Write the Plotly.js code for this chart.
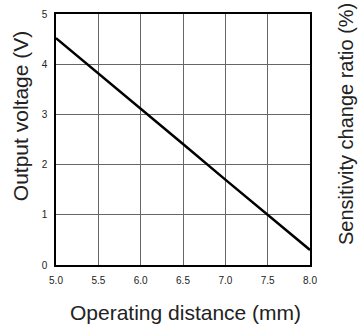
<!DOCTYPE html>
<html><head><meta charset="utf-8">
<script src="https://cdn.plot.ly/plotly-3.0.1.min.js"></script>
<style>html,body{margin:0;padding:0;background:#fff}</style>
</head><body><div id="chart" style="width:360px;height:331px"></div>
<script>
const distance = [5.0, 5.5, 6.0, 6.5, 7.0, 7.5, 8.0];
const voltage = [4.52, 3.82, 3.11, 2.41, 1.70, 1.00, 0.30];
const xTicks = [5.0, 5.5, 6.0, 6.5, 7.0, 7.5, 8.0];
const xTickLabels = ["5.0", "5.5", "6.0", "6.5", "7.0", "7.5", "8.0"];
const yTicks = [0, 1, 2, 3, 4, 5];
const yTickLabels = ["0", "1", "2", "3", "4", "5"];

const trace = {x: distance, y: voltage, mode: 'lines', type: 'scatter',
  line: {color: '#000', width: 2.5}, hoverinfo: 'skip', showlegend: false};

const layout = {
  width: 360, height: 331,
  margin: {l: 56, r: 50, t: 13.5, b: 65.5},
  paper_bgcolor: '#fff', plot_bgcolor: '#fff',
  font: {family: 'Liberation Sans, Arial, sans-serif', color: '#222'},
  xaxis: {range: [5, 8], tickvals: xTicks, ticktext: xTickLabels, ticks: '',
    ticklabelstandoff: 5,
    tickfont: {size: 10, color: '#222'}, showgrid: true, gridcolor: '#666', gridwidth: 1,
    zeroline: false, showline: true, linecolor: '#000', linewidth: 1.8, mirror: true, fixedrange: true},
  yaxis: {range: [0, 5], tickvals: yTicks, ticktext: yTickLabels, ticks: '',
    ticklabelstandoff: 5,
    tickfont: {size: 10, color: '#222'}, showgrid: true, gridcolor: '#666', gridwidth: 1,
    zeroline: false, showline: true, linecolor: '#000', linewidth: 1.8, mirror: true, fixedrange: true},
  annotations: [
    {text: 'Output voltage (V)', xref: 'paper', yref: 'paper', x: -0.1417, y: 0.593,
     xanchor: 'center', yanchor: 'middle', textangle: -90, showarrow: false,
     font: {size: 21, color: '#222'}},
    {text: 'Sensitivity change ratio (%)', xref: 'paper', yref: 'paper', x: 1.1417, y: 0.5615,
     xanchor: 'center', yanchor: 'middle', textangle: -90, showarrow: false,
     font: {size: 20, color: '#222'}},
    {text: 'Operating distance (mm)', xref: 'paper', yref: 'paper', x: 0.508, y: -0.1885,
     xanchor: 'center', yanchor: 'middle', showarrow: false,
     font: {size: 21, color: '#222'}}
  ]
};
Plotly.newPlot('chart', [trace], layout, {displayModeBar: false, staticPlot: true});
</script></body></html>
